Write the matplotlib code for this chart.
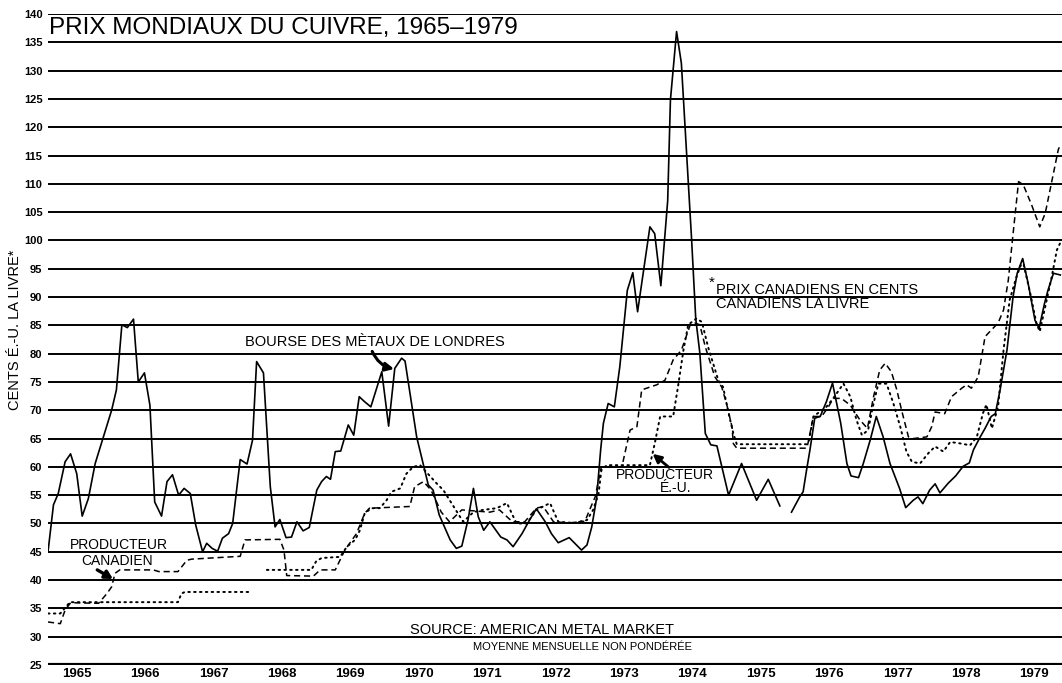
import numpy as np
import matplotlib
matplotlib.use("Agg")
import matplotlib.pyplot as plt

plt.rcParams['font.family'] = ['Liberation Sans', 'DejaVu Sans']

# ---- Data (decimal year, US cents / lb) ----
lme_t = [1965.00, 1965.08, 1965.15, 1965.25, 1965.33, 1965.42, 1965.50, 1965.59, 1965.69, 1965.81,
         1965.93, 1966.00, 1966.08, 1966.16, 1966.25, 1966.32, 1966.41, 1966.49, 1966.56, 1966.66,
         1966.74, 1966.82, 1966.91, 1966.99, 1967.08, 1967.16, 1967.26, 1967.32, 1967.40, 1967.48,
         1967.55, 1967.64, 1967.70, 1967.81, 1967.91, 1967.99, 1968.05, 1968.15, 1968.25, 1968.32,
         1968.39, 1968.48, 1968.56, 1968.64, 1968.73, 1968.82, 1968.93, 1969.00, 1969.07, 1969.13,
         1969.20, 1969.28, 1969.39, 1969.47, 1969.55, 1969.63, 1969.72, 1969.88, 1969.98, 1970.07,
         1970.17, 1970.22, 1970.39, 1970.56, 1970.63, 1970.72, 1970.88, 1970.97, 1971.05, 1971.14,
         1971.22, 1971.29, 1971.37, 1971.46, 1971.62, 1971.71, 1971.80, 1971.93, 1972.04, 1972.14,
         1972.27, 1972.36, 1972.46, 1972.62, 1972.80, 1972.88, 1972.95, 1973.02, 1973.08, 1973.12,
         1973.19, 1973.28, 1973.36, 1973.47, 1973.55, 1973.62, 1973.80, 1973.87, 1973.96, 1974.06,
         1974.10, 1974.19, 1974.26, 1974.41, 1974.47, 1974.53, 1974.61, 1974.69, 1974.78, 1974.95,
         1975.14, 1975.36, 1975.53, 1975.70, 1975.78,
         1975.87, 1975.99, 1976.04, 1976.09, 1976.14, 1976.21, 1976.29, 1976.38, 1976.47, 1976.59,
         1976.68, 1976.74, 1976.85, 1976.92, 1977.02, 1977.11, 1977.21, 1977.31, 1977.45, 1977.54,
         1977.65, 1977.72, 1977.79, 1977.89, 1977.97, 1978.04, 1978.16, 1978.27, 1978.38, 1978.47,
         1978.53, 1978.63, 1978.70, 1978.79, 1978.85, 1978.92, 1979.02, 1979.11, 1979.17, 1979.25,
         1979.33, 1979.43, 1979.49, 1979.57, 1979.62, 1979.70, 1979.80]
lme_v = [45.0, 53.3, 55.3, 60.9, 62.3, 58.8, 51.3, 54.4, 60.6, 65.3,
         70.0, 73.6, 85.1, 84.6, 86.1, 75.0, 76.6, 70.9, 53.8, 51.3,
         57.4, 58.6, 55.0, 56.2, 55.3, 49.7, 45.0, 46.5, 45.6, 45.1,
         47.4, 48.2, 50.0, 61.3, 60.5, 64.7, 78.6, 76.6, 56.5, 49.4,
         50.7, 47.5, 47.6, 50.3, 48.7, 49.3, 55.9, 57.4, 58.3, 57.8,
         62.7, 62.8, 67.4, 65.6, 72.4, 71.5, 70.6, 76.8, 67.2, 77.4,
         79.2, 78.7, 65.3, 56.8, 55.9, 51.5, 47.1, 45.6, 46.0, 50.6,
         56.2, 51.2, 48.8, 50.3, 47.6, 47.1, 45.9, 48.2, 50.6, 52.6,
         50.3, 48.2, 46.6, 47.5, 45.3, 46.2, 49.4, 54.4, 63.0, 67.7,
         71.2, 70.6, 77.7, 91.2, 94.3, 87.4, 102.4, 101.2, 92.0, 107.0,
         124.8, 136.9, 131.3, 100.1, 86.2, 80.1, 65.9, 63.9, 63.7, 55.0,
         60.6, 54.1, 57.8, 53.1, np.nan,
         52.0, 54.7, 55.6, 59.4, 63.0, 68.6, 68.9, 71.5, 74.8, 67.7,
         60.6, 58.4, 58.1, 60.6, 64.7, 68.9, 65.3, 60.6, 56.2, 52.8,
         54.1, 54.7, 53.5, 55.9, 57.0, 55.4, 57.1, 58.4, 60.1, 60.7,
         63.0, 65.3, 66.8, 68.9, 69.4, 73.6, 80.6, 90.1, 94.2, 96.8,
         92.4, 85.9, 84.5, 88.9, 91.2, 94.2, 93.9]

can_t = [1965.00, 1965.18, 1965.25, 1965.33, 1965.74, 1965.86, 1965.93, 1965.98, 1966.05, 1966.54,
         1966.62, 1966.90, 1967.03, 1967.10, 1967.81, 1967.88, 1968.39, 1968.45, 1968.49, 1968.88,
         1968.98, 1969.20, 1969.34, 1969.51, 1969.63, 1969.70, 1970.29, 1970.36, 1970.49, 1970.60,
         1970.75, 1970.87, 1971.05, 1971.46, 1971.60, 1971.79, 1971.97, 1972.14, 1972.24, 1972.39,
         1972.62, 1972.85, 1972.95, 1973.00, 1973.09, 1973.39, 1973.51, 1973.61, 1973.68, 1973.90,
         1974.02, 1974.14, 1974.26, 1974.39, 1974.46, 1974.53, 1974.61, 1974.75, 1974.85, 1974.92,
         1975.00, 1975.02, 1975.07, 1976.09, 1976.11, 1976.19, 1976.31, 1976.41, 1976.48, 1976.60,
         1976.73, 1976.87, 1976.98, 1977.07, 1977.16, 1977.24, 1977.33, 1977.41, 1977.48, 1977.58,
         1977.65, 1977.85, 1977.92, 1977.97, 1978.11, 1978.21, 1978.36, 1978.43, 1978.50, 1978.60,
         1978.70, 1978.77, 1978.89, 1978.97, 1979.04, 1979.11, 1979.19, 1979.26, 1979.38, 1979.50,
         1979.58, 1979.67, 1979.77, 1979.80]
can_v = [32.6, 32.3, 34.7, 36.0, 35.9, 37.6, 38.8, 41.2, 41.8, 41.8,
         41.5, 41.5, 43.5, 43.7, 44.2, 47.1, 47.2, 45.3, 40.8, 40.7,
         41.8, 41.8, 45.3, 48.2, 51.8, 52.7, 53.0, 56.5, 57.4, 55.9,
         52.0, 50.3, 52.4, 52.0, 52.4, 50.3, 50.3, 52.7, 53.0, 50.3,
         50.1, 50.4, 53.3, 54.7, 60.0, 60.0, 66.5, 67.1, 73.6, 74.5,
         75.3, 78.9, 80.6, 85.1, 85.4, 85.1, 81.2, 75.9, 74.1, 71.2,
         67.1, 64.1, 63.3, 63.3, 64.1, 68.9, 68.9, 70.6, 72.1, 72.1,
         70.9, 68.3, 66.8, 72.4, 77.1, 78.3, 76.8, 73.6, 70.0, 65.3,
         65.0, 65.3, 67.1, 69.7, 69.4, 72.4, 73.9, 74.5, 73.9, 75.9,
         83.0, 83.9, 85.4, 87.7, 93.0, 101.2, 110.4, 109.8, 106.3, 102.4,
         104.8, 110.1, 116.0, 116.9]

us_t = [1965.00, 1965.18, 1965.32, 1966.90, 1966.95, 1967.00, 1967.93, 1968.05,
        1968.20, 1968.85, 1968.92, 1969.00, 1969.27, 1969.37, 1969.49, 1969.56, 1969.63, 1969.73,
        1969.85, 1969.95, 1970.02, 1970.15, 1970.24, 1970.34, 1970.44, 1970.68, 1970.78, 1970.93,
        1971.07, 1971.22, 1971.36, 1971.56, 1971.71, 1971.85, 1972.00, 1972.14, 1972.34, 1972.46,
        1972.68, 1972.88, 1972.97, 1973.05, 1973.09, 1973.17, 1973.80, 1973.87, 1973.95, 1974.14,
        1974.21, 1974.29, 1974.36, 1974.48, 1974.56, 1974.65, 1974.80, 1974.87, 1974.95, 1975.02,
        1975.07, 1976.09, 1976.12, 1976.19, 1976.38, 1976.48, 1976.63, 1976.73, 1976.82, 1976.90,
        1976.99, 1977.07, 1977.14, 1977.26, 1977.36, 1977.46, 1977.55, 1977.63, 1977.75, 1977.87,
        1977.97, 1978.09, 1978.19, 1978.36, 1978.48, 1978.58, 1978.67, 1978.72, 1978.80, 1978.89,
        1978.97, 1979.06, 1979.16, 1979.25, 1979.36, 1979.45, 1979.50, 1979.58, 1979.67, 1979.75,
        1979.82]
us_v = [34.1, 34.1, 36.1, 36.1, 37.6, 37.9, 37.9, np.nan,
        41.8, 41.8, 43.3, 43.9, 44.1, 45.9, 47.1, 48.8, 51.8, 52.7,
        52.7, 54.1, 55.6, 56.2, 58.8, 60.0, 60.3, 57.1, 55.9, 53.0,
        50.3, 52.0, 52.4, 52.7, 53.6, 50.0, 50.0, 52.4, 53.6, 50.3,
        50.1, 50.6, 52.4, 55.3, 59.4, 60.3, 60.3, 64.1, 68.9, 68.9,
        74.1, 80.6, 85.1, 86.2, 85.6, 81.2, 75.3, 74.1, 69.5, 65.9,
        64.0, 64.0, 64.4, 68.9, 70.6, 72.1, 74.7, 72.4, 68.3, 65.6,
        66.5, 71.2, 74.7, 74.7, 71.2, 67.1, 62.7, 60.9, 60.6, 62.4,
        63.6, 62.7, 64.4, 64.1, 63.8, 65.3, 69.5, 71.0, 66.8, 70.6,
        80.6, 89.5, 93.6, 96.5, 90.7, 85.4, 83.9, 88.3, 93.3, 98.3,
        100.1]

years = list(range(1965, 1980))
yticks = list(range(25, 141, 5))

# ---- Figure ----
fig = plt.figure(figsize=(10.62, 6.83), dpi=100)
ax = fig.add_axes([48 / 1062, 1 - 665 / 683, 1 - 48 / 1062, (665 - 14) / 683])
ax.set_xlim(1965.0, 1979.825)
ax.set_ylim(25, 140)

for v in yticks:
    ax.axhline(v, color='black', lw=3.0 if v == 25 else 1.4, zorder=1)

ax.plot(lme_t, lme_v, color='black', lw=1.2, zorder=3)
ax.plot(can_t, can_v, color='black', lw=1.1, ls=(0, (4, 2.5)), zorder=3)
ax.plot(us_t, us_v, color='black', lw=1.4, ls=(0, (0.8, 2.2)), dash_capstyle='round', zorder=3)

for s in ax.spines.values():
    s.set_visible(False)
ax.set_yticks(yticks)
ax.set_yticklabels([str(v) for v in yticks], fontsize=8, fontweight='bold')
ax.set_xticks([y + 0.42 for y in years])
ax.set_xticklabels([str(y) for y in years], fontsize=9.5, fontweight='bold')
ax.tick_params(axis='both', length=0)
ax.tick_params(axis='y', pad=4)
ax.tick_params(axis='x', pad=2)

fig.text(15 / 1062, 1 - 330 / 683, "CENTS É.-U. LA LIVRE*", rotation=90,
         ha='center', va='center', fontsize=10.5)

ax.text(1965.02, 137.5, "PRIX MONDIAUX DU CUIVRE, 1965\u20131979", fontsize=17.5,
        ha='left', va='center', zorder=5)

ax.text(1967.88, 82.05, "BOURSE DES MÈTAUX DE LONDRES", fontsize=10.5, ha='left', va='center')
ax.annotate("", xy=(1970.06, 77.3), xytext=(1969.74, 80.4),
            arrowprops=dict(arrowstyle='-|>,head_length=0.5,head_width=0.25', lw=2.2,
                            color='black', connectionstyle='arc3,rad=0.25',
                            shrinkA=0, shrinkB=0))

ax.text(1974.66, 92.6, "*", fontsize=11, ha='left', va='center')
ax.text(1974.76, 90.0, "PRIX CANADIENS EN CENTS\nCANADIENS LA LIVRE", fontsize=10.5,
        ha='left', va='center', linespacing=0.95)

ax.text(1974.02, 58.55, "PRODUCTEUR", fontsize=10, ha='center', va='center')
ax.text(1974.17, 56.25, "É.-U.", fontsize=10, ha='center', va='center')
ax.annotate("", xy=(1973.84, 62.3), xytext=(1974.08, 59.9),
            arrowprops=dict(arrowstyle='-|>,head_length=0.5,head_width=0.25', lw=2.0,
                            color='black', shrinkA=0, shrinkB=0))

ax.text(1966.04, 46.2, "PRODUCTEUR", fontsize=10, ha='center', va='center')
ax.text(1966.01, 43.4, "CANADIEN", fontsize=10, ha='center', va='center')
ax.annotate("", xy=(1965.95, 40.2), xytext=(1965.72, 41.8),
            arrowprops=dict(arrowstyle='-|>,head_length=0.45,head_width=0.25', lw=2.4,
                            color='black', shrinkA=0, shrinkB=0))

ax.text(1972.22, 31.2, "SOURCE: AMERICAN METAL MARKET", fontsize=10.5, ha='center', va='center')
ax.text(1972.81, 28.2, "MOYENNE MENSUELLE NON PONDÉRÉE", fontsize=8, ha='center', va='center')

fig.savefig("out.png", dpi=100)
